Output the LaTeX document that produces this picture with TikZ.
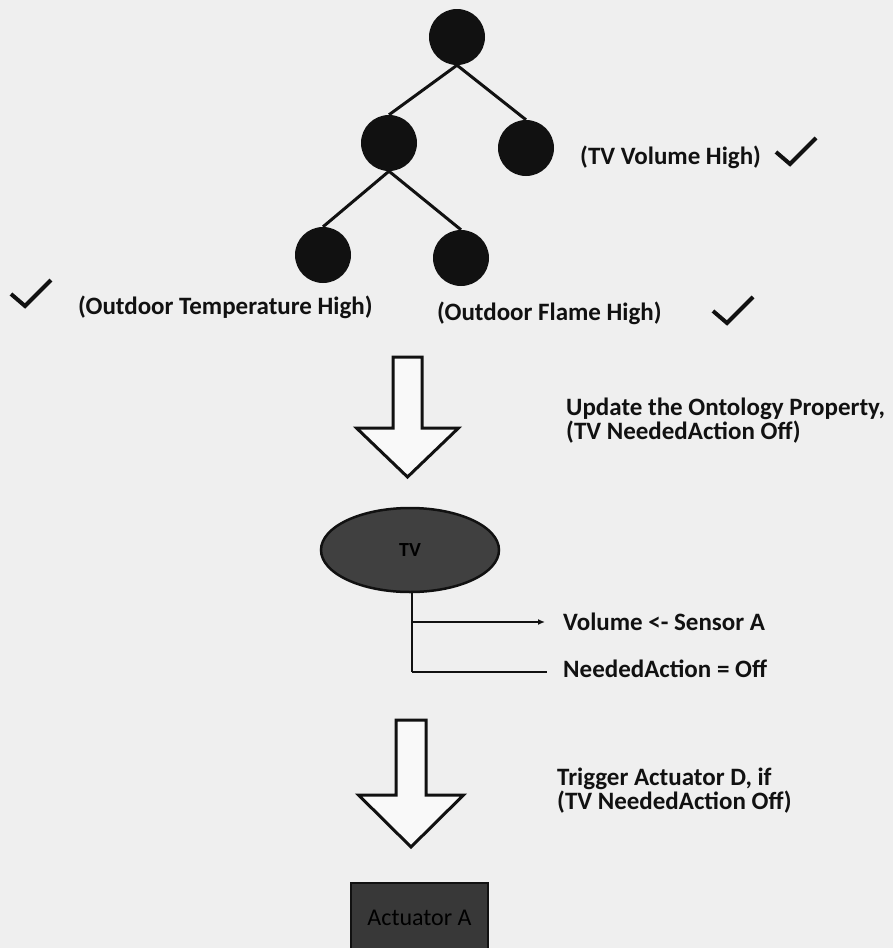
\documentclass[tikz,border=0pt]{standalone}
\usepackage{fontspec}
\setmainfont{Carlito}
\usetikzlibrary{shapes.geometric,arrows.meta}
\definecolor{paper}{HTML}{EFEFEF}
\definecolor{ink}{HTML}{111111}
\definecolor{tvfill}{HTML}{404040}
\definecolor{boxfill}{HTML}{383838}
\begin{document}
\begin{tikzpicture}[x=1pt,y=-1pt,
  leaf/.style={circle,fill=ink,minimum size=56pt,inner sep=0pt},
  branch/.style={draw=ink,line width=3pt},
  lbl/.style={font=\fontsize{25}{24.5}\selectfont\bfseries,text=ink,inner sep=0pt,anchor=west,align=left},
  tickline/.style={draw=ink,line width=4pt,line join=miter},
  outline/.style={draw=ink,line width=3pt,fill=white!60!paper,line join=miter},
  feed/.style={draw=ink,line width=2.2pt},
  tickmark/.pic={\path[tickline] (-14,-12) -- (0,0) -- (26,-26);},
  blockarrow/.pic={\path[outline] (-14.5,0) -- (14.5,0) -- (14.5,71) -- (51,71)
      -- (0,120) -- (-51,71) -- (-14.5,71) -- cycle;},
  blockarrowb/.pic={\path[outline] (-15,0) -- (15,0) -- (15,75) -- (52.5,75)
      -- (0,127) -- (-52.5,75) -- (-15,75) -- cycle;}
]
\useasboundingbox (0,0) rectangle (893,948);
\fill[paper] (0,0) rectangle (893,948);

% decision tree
\node[leaf] (root) at (457,37) {};
\node[leaf] (mid)  at (389,143) {};
\node[leaf] (vol)  at (526,148) {};
\node[leaf] (temp) at (323,255) {};
\node[leaf] (flame) at (461,258) {};
\path[branch] (root.south) -- (mid.north);
\path[branch] (root.south) -- (vol.north);
\path[branch] (mid.south) -- (temp.north);
\path[branch] (mid.south) -- (flame.north);

% condition labels with check marks
\node[lbl] (volTxt) at (580,157) {(TV Volume High)};
\node[lbl] (tempTxt) at (78,307) {(Outdoor Temperature High)};
\node[lbl] (flameTxt) at (437,313) {(Outdoor Flame High)};
\pic at (790,164) {tickmark};
\pic at (25,306) {tickmark};
\pic at (727,323) {tickmark};

% first step: update ontology
\pic at (407.5,357) {blockarrow};
\node[lbl] (update) at (566,420.5) {Update the Ontology Property,\\(TV NeededAction Off)};

% TV individual and its properties
\node[ellipse,draw=ink,line width=2.5pt,fill=tvfill,minimum width=178pt,minimum height=84pt,
      inner sep=0pt,font=\fontsize{20}{20}\selectfont\bfseries,text=black] (tv) at (410,550) {TV};
\node[lbl] (sensor) at (563,622) {Volume <- Sensor A};
\node[lbl] (needed) at (563,669) {NeededAction = Off};
\coordinate (j1) at (412,622);
\coordinate (j2) at (412,672);
\path[feed] (tv.south -| j1) -- (j2);
\draw[feed,-{Latex[length=7pt,width=6pt]},shorten >=18pt] (j1) -- (sensor.west);
\path[feed] (j2) -- ([xshift=-16pt]j2 -| needed.west);

% second step: trigger actuator
\pic at (411,720) {blockarrowb};
\node[lbl] (trigger) at (557,790.5) {Trigger Actuator D, if\\(TV NeededAction Off)};

% actuator
\node[rectangle,draw=ink,line width=2.5pt,fill=boxfill,minimum width=137pt,minimum height=70pt,
      inner sep=0pt,font=\fontsize{24}{24}\selectfont,text=black] (act) at (419.5,918) {Actuator A};
\end{tikzpicture}
\end{document}
